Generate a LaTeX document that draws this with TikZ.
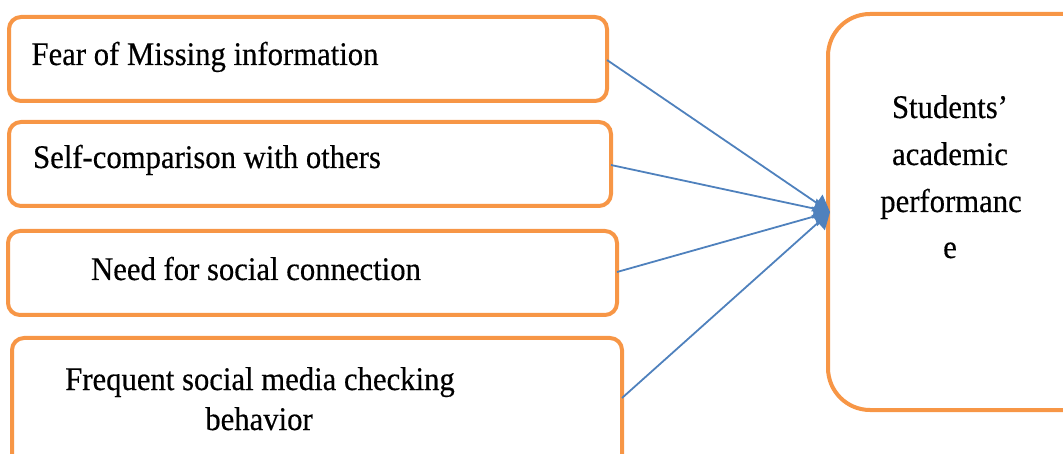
\documentclass[tikz,border=0pt]{standalone}
\usepackage{fontspec}
\setmainfont{Liberation Serif}[FakeStretch=0.93,FakeBold=0.4]
\usetikzlibrary{arrows.meta}
\definecolor{boxorange}{HTML}{F79646}
\definecolor{linkblue}{HTML}{4F81BD}
\tikzset{
  factor/.style={draw=boxorange, line width=4pt, rounded corners=12pt, fill=white},
  outcome/.style={draw=boxorange, line width=4pt, rounded corners=42pt, fill=white},
  label/.style={font=\fontsize{33}{47}\selectfont, text=black, inner sep=0pt, anchor=base},
  link/.style={draw=linkblue, line width=1.8pt, -{Triangle[length=16pt,width=20pt]}}
}
\begin{document}
\begin{tikzpicture}[x=1pt,y=-1pt]
\useasboundingbox (0,0) rectangle (1063,454);
\clip (0,0) rectangle (1063,454);
% four factor boxes
\draw[factor] (9,17) rectangle (607,101);
\draw[factor] (9,122) rectangle (611,206);
\draw[factor] (8,231) rectangle (617,315);
\draw[factor] (12,338) rectangle (622,470);
% outcome box
\draw[outcome] (828,14) rectangle (1110,410);
% anchor points on the box edges
\coordinate (f1) at (607,60);
\coordinate (f2) at (611,165);
\coordinate (f3) at (617,272);
\coordinate (f4) at (622,398);
\coordinate (out) at (830,212);
% labels
\node[label] (t1) at (205,65) {Fear of Missing information};
\node[label] (t2) at (207,168) {Self-comparison with others};
\node[label] (t3) at (256,280) {Need for social connection};
\node[label] (t4a) at (260,390) {Frequent social media checking};
\node[label] (t4b) at (259,430) {behavior};
\node[label] (r1) at (950,118) {Students’};
\node[label] (r2) at (950,165) {academic};
\node[label] (r3) at (951,212) {performanc};
\node[label] (r4) at (950,258) {e};
% connectors
\draw[link] (f1) -- (out);
\draw[link] (f2) -- (out);
\draw[link] (f3) -- (out);
\draw[link] (f4) -- (out);
\end{tikzpicture}
\end{document}
